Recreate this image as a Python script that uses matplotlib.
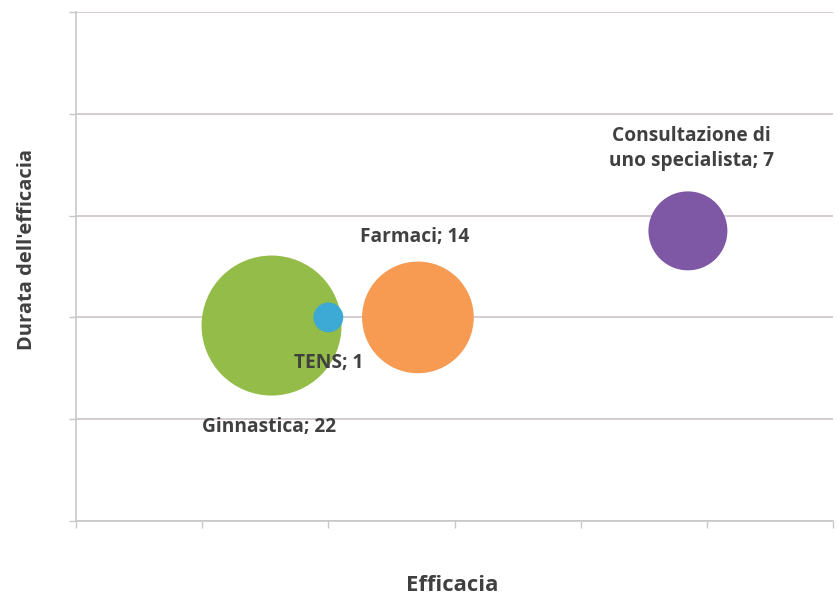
import matplotlib
matplotlib.use("Agg")
import matplotlib.pyplot as plt
import numpy as np

# Data
names = ["Ginnastica", "TENS", "Farmaci", "Consultazione di\nuno specialista"]
efficacia = [1.55, 2.0, 2.71, 4.85]
durata = [1.92, 2.0, 2.0, 2.85]
counts = [22, 1, 14, 7]
colors = ["#93BC48", "#3DAAD6", "#F79A52", "#7E58A5"]

label_offsets = [(-0.02, -1.0), (0, -0.45), (-0.03, 0.79), (0.03, 0.81)]

fig = plt.figure(figsize=(8.38, 5.99), dpi=100)
ax = fig.add_axes([76/838, 1-521/599, (833-76)/838, (521-12)/599])

ax.set_xlim(0, 6)
ax.set_ylim(0, 5)
ax.set_yticks(np.arange(0, 6, 1))
ax.set_xticks(np.arange(0, 7, 1))
ax.set_xticklabels([])
ax.set_yticklabels([])
ax.grid(axis="y", color="#d2c9c9", linewidth=1.3)
ax.set_axisbelow(True)
for s in ["top", "right"]:
    ax.spines[s].set_visible(False)
for s in ["left", "bottom"]:
    ax.spines[s].set_color("#c8c8c8")
    ax.spines[s].set_linewidth(1.2)
ax.tick_params(axis="both", direction="out", length=5, color="#c8c8c8", width=1)

# bubble area proportional to count; largest diameter ~140 px
dmax_pt = 140 * 0.72
sizes = [dmax_pt**2 * c / max(counts) for c in counts]
ax.scatter(efficacia, durata, s=sizes, c=colors, edgecolors="none", zorder=3)

for n, x, y, c, (dx, dy) in zip(names, efficacia, durata, counts, label_offsets):
    ax.text(x + dx, y + dy, f"{n}; {c}", ha="center", va="center",
            fontsize=13.8, fontweight="bold", color="#404040",
            family="Open Sans", zorder=4, linespacing=1.3)

fig.text(452/838, 1-575/599, "Efficacia", ha="center", va="top",
         fontsize=15.8, fontweight="bold", color="#404040", family="Open Sans")
fig.text(27/838, 1-250/599, "Durata dell'efficacia", ha="center", va="center",
         rotation=90, fontsize=14.5, fontweight="bold", color="#404040",
         family="Open Sans")

fig.savefig("out.png", dpi=100)
